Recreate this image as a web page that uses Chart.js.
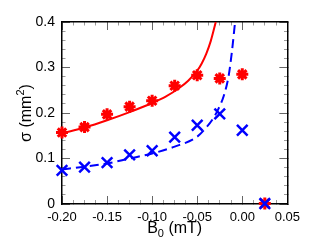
<!DOCTYPE html>
<html>
<head>
<meta charset="utf-8">
<script src="https://cdn.jsdelivr.net/npm/chart.js@4.4.1/dist/chart.umd.min.js"></script>
<style>
html,body{margin:0;padding:0;background:#fff;}
#wrap{width:314px;height:245px;position:relative;}
</style>
</head>
<body>
<div id="wrap"><canvas id="c" width="314" height="245"></canvas></div>
<script>
// measured points
const fieldValues = [-0.2, -0.175, -0.15, -0.125, -0.1, -0.075, -0.05, -0.025, 0, 0.025];
const redValues   = [0.157, 0.169, 0.197, 0.214, 0.227, 0.260, 0.283, 0.276, 0.285, 0.001];
const blueValues  = [0.074, 0.081, 0.091, 0.108, 0.117, 0.147, 0.173, 0.198, 0.162, 0.001];
// fitted curves
const redCurveX  = [-0.2, -0.175, -0.15, -0.125, -0.1, -0.085, -0.07, -0.06, -0.05, -0.045, -0.04, -0.035, -0.0294];
const redCurveY  = [0.155, 0.168, 0.184, 0.202, 0.222, 0.236, 0.255, 0.271, 0.293, 0.309, 0.330, 0.358, 0.400];
const blueCurveX = [-0.2, -0.175, -0.15, -0.125, -0.1, -0.075, -0.05, -0.04, -0.033, -0.027, -0.0205, -0.0152, -0.0116, -0.008];
const blueCurveY = [0.076, 0.082, 0.089, 0.100, 0.111, 0.126, 0.148, 0.168, 0.186, 0.207, 0.238, 0.281, 0.333, 0.400];
// axis ticks
const xMajorTicks = [-0.2, -0.15, -0.1, -0.05, 0, 0.05];
const yMajorTicks = [0, 0.1, 0.2, 0.3, 0.4];
const xMinorTicks = [-0.1875, -0.175, -0.1625, -0.1375, -0.125, -0.1125, -0.0875, -0.075, -0.0625, -0.0375, -0.025, -0.0125, 0.0125, 0.025, 0.0375];
const yMinorTicks = [0.02, 0.04, 0.06, 0.08, 0.12, 0.14, 0.16, 0.18, 0.22, 0.24, 0.26, 0.28, 0.32, 0.34, 0.36, 0.38];

const zip = (xs, ys) => xs.map((x, i) => ({x: x, y: ys[i]}));
const FONT = "'Liberation Sans', Arial, Helvetica, sans-serif";
const isIn = (v, list) => list.some(m => Math.abs(m - v) < 1e-9);
const xAll = xMajorTicks.concat(xMinorTicks).sort((a, b) => a - b);
const yAll = yMajorTicks.concat(yMinorTicks).sort((a, b) => a - b);

// inward tick marks drawn by the axes themselves
function gridFor(majors, borderFirst) {
  return {
    display: true,
    drawOnChartArea: false,
    drawTicks: true,
    tickLength: -8,
    tickWidth: 1,
    tickColor: c => (c.tick && isIn(c.tick.value, majors)) ? '#666' : '#9a9a9a',
    tickBorderDash: c => (c.tick && isIn(c.tick.value, majors)) ? [] : (borderFirst ? [4.5, 100] : [0, 4.5, 100, 0])
  };
}
const borderOpts = {display: true, color: '#000', width: 1.5};

const titlePlugin = {
  id: 'titlePlugin',
  afterDraw(chart) {
    const ctx = chart.ctx, a = chart.chartArea;
    ctx.save();
    ctx.fillStyle = '#000';
    ctx.textBaseline = 'alphabetic';
    ctx.textAlign = 'left';
    const big = '16px ' + FONT, small = '11px ' + FONT;
    ctx.font = big; const wB = ctx.measureText('B').width;
    ctx.font = small; const w0 = ctx.measureText('0').width;
    ctx.font = big; const wR = ctx.measureText(' (mT)').width;
    let total = wB + w0 + wR;
    let tx = (a.left + a.right) / 2 - total / 2;
    const by = 233;
    ctx.font = big; ctx.fillText('B', tx, by);
    ctx.font = small; ctx.fillText('0', tx + wB, by + 4);
    ctx.font = big; ctx.fillText(' (mT)', tx + wB + w0, by);
    ctx.translate(31, (a.top + a.bottom) / 2);
    ctx.rotate(-Math.PI / 2);
    ctx.font = big; const wS = ctx.measureText('\u03c3 (mm').width;
    ctx.font = small; const w2 = ctx.measureText('2').width;
    ctx.font = big; const wP = ctx.measureText(')').width;
    total = wS + w2 + wP;
    tx = -total / 2;
    ctx.font = big; ctx.fillText('\u03c3 (mm', tx, 0);
    ctx.font = small; ctx.fillText('2', tx + wS, -7);
    ctx.font = big; ctx.fillText(')', tx + wS + w2, 0);
    ctx.restore();
  }
};

new Chart(document.getElementById('c'), {
  type: 'scatter',
  data: {
    datasets: [
      {
        type: 'line', data: zip(redCurveX, redCurveY),
        borderColor: '#ff0000', borderWidth: 2, pointRadius: 0,
        fill: false, cubicInterpolationMode: 'monotone', order: 4
      },
      {
        type: 'line', data: zip(blueCurveX, blueCurveY),
        borderColor: '#0000ff', borderWidth: 2, borderDash: [9, 5], pointRadius: 0,
        fill: false, cubicInterpolationMode: 'monotone', order: 3
      },
      {
        data: zip(fieldValues, redValues),
        pointStyle: 'star', pointRadius: 6, pointBorderWidth: 3,
        borderColor: '#ff0000', backgroundColor: '#ff0000', clip: false, order: 2
      },
      {
        data: zip(fieldValues, blueValues),
        pointStyle: 'crossRot', pointRadius: 7.5, pointBorderWidth: 2.5,
        borderColor: '#0000ff', backgroundColor: '#0000ff', clip: false, order: 1
      }
    ]
  },
  options: {
    responsive: false,
    animation: false,
    events: [],
    layout: {padding: 0},
    plugins: {legend: {display: false}, tooltip: {enabled: false}},
    scales: {
      x: {
        type: 'linear', position: 'bottom', min: -0.2, max: 0.05,
        afterBuildTicks: s => { s.ticks = xAll.map(v => ({value: v})); },
        afterFit: s => { s.height = 41; },
        grid: gridFor(xMajorTicks, true),
        border: borderOpts,
        ticks: {
          color: '#000', padding: 14, maxRotation: 0, autoSkip: false,
          font: {family: FONT, size: 13},
          callback: v => isIn(v, xMajorTicks) ? v.toFixed(2) : ''
        }
      },
      x2: {
        type: 'linear', position: 'top', min: -0.2, max: 0.05,
        afterBuildTicks: s => { s.ticks = xAll.map(v => ({value: v})); },
        afterFit: s => { s.height = 11; },
        grid: gridFor(xMajorTicks, false),
        border: borderOpts,
        ticks: {display: false}
      },
      y: {
        type: 'linear', position: 'left', min: 0, max: 0.4,
        afterBuildTicks: s => { s.ticks = yAll.map(v => ({value: v})); },
        afterFit: s => { s.width = 62; },
        grid: gridFor(yMajorTicks, false),
        border: borderOpts,
        ticks: {
          color: '#000', padding: 15, autoSkip: false,
          font: {family: FONT, size: 14, lineHeight: 1},
          callback: v => isIn(v, yMajorTicks) ? (v === 0 ? '0' : v.toFixed(1)) : ''
        }
      },
      y2: {
        type: 'linear', position: 'right', min: 0, max: 0.4,
        afterBuildTicks: s => { s.ticks = yAll.map(v => ({value: v})); },
        afterFit: s => { s.width = 18; },
        grid: gridFor(yMajorTicks, true),
        border: borderOpts,
        ticks: {display: false}
      }
    }
  },
  plugins: [titlePlugin]
});
</script>
</body>
</html>
